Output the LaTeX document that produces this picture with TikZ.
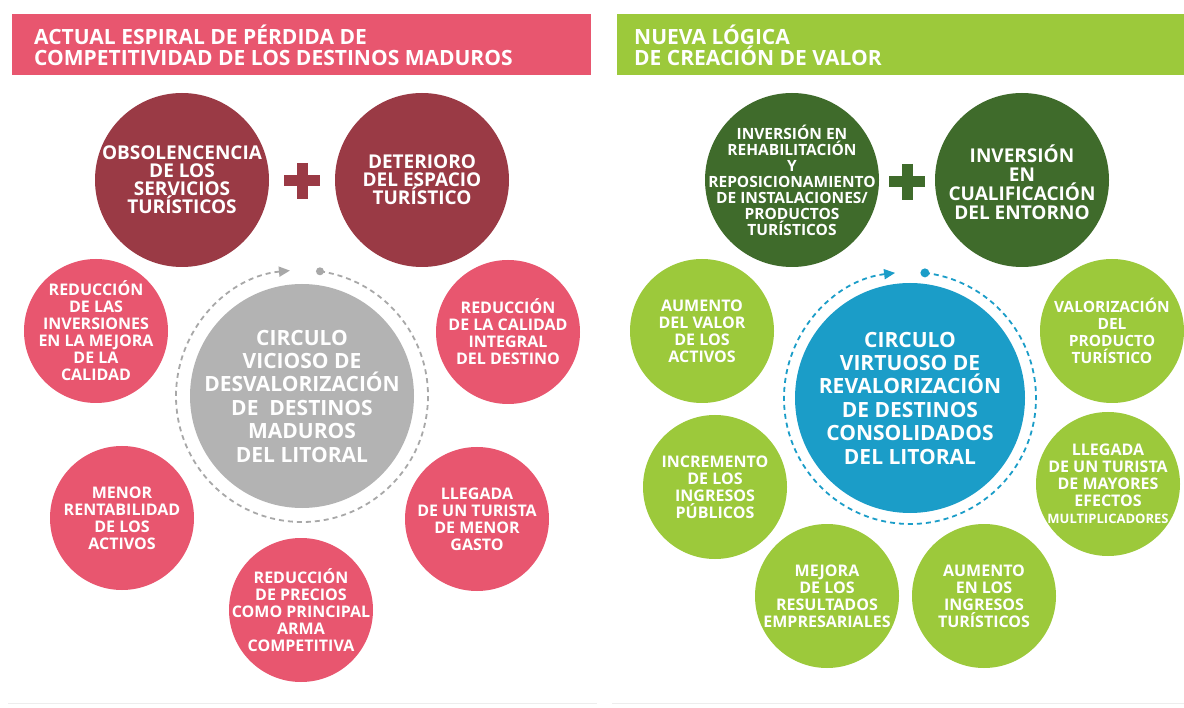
\documentclass[tikz,border=0pt]{standalone}
\usepackage{fontspec}
\setmainfont{Open Sans}
\usetikzlibrary{arrows.meta}

\definecolor{rosa}{HTML}{E8566F}
\definecolor{granate}{HTML}{9A3A45}
\definecolor{grisc}{HTML}{B3B3B3}
\definecolor{grisl}{HTML}{A8A8A8}
\definecolor{lima}{HTML}{9CC93B}
\definecolor{verdeo}{HTML}{3F6B2B}
\definecolor{azul}{HTML}{1B9DC8}
\lineskiplimit=-100pt

\begin{document}
\begin{tikzpicture}[x=1pt, y=-1pt,
  ball/.style={circle, inner sep=0pt, minimum size=144pt},
  bigball/.style={circle, inner sep=0pt, minimum size=174pt},
  btxt/.style={align=center, text=white, inner sep=0pt, font=\bfseries\fontsize{16}{17}\selectfont},
  bigtxt/.style={btxt, font=\bfseries\fontsize{19}{18}\selectfont},
  coretxt/.style={btxt, font=\bfseries\fontsize{21}{23.4}\selectfont},
  headtxt/.style={anchor=west, align=left, inner sep=0pt, text=white, font=\bfseries\fontsize{21}{21}\selectfont},
  ringarc/.style={line width=1.8pt, dash pattern=on 5pt off 4pt, -{Triangle[length=11pt,width=10pt]}},
  plusbar/.style={line width=11pt}]

  % Canvas
  \fill[white] (0,0) rectangle (1184,708);
  \useasboundingbox (0,0) rectangle (1184,708);
  \draw[black!7, line width=1pt] (8,703) -- (597,703) (612,703) -- (1184,703);

  % Headers
  \fill[rosa] (12,14) rectangle (591,75);
  \node[headtxt] (hizq) at (34,45) {ACTUAL ESPIRAL DE PÉRDIDA DE\\COMPETITIVIDAD DE LOS DESTINOS MADUROS};
  \fill[lima] (617,14) rectangle (1184,75);
  \node[headtxt] (hder) at (634,45) {NUEVA LÓGICA\\DE CREACIÓN DE VALOR};

  % Left panel: causes
  \node[bigball, fill=granate] (obso) at (182,180) {};
  \node[bigtxt] at (obso) {OBSOLENCENCIA\\DE LOS\\SERVICIOS\\TURÍSTICOS};
  \node[bigball, fill=granate] (dete) at (422,180) {};
  \node[bigtxt] at (dete) {DETERIORO\\DEL ESPACIO\\TURÍSTICO};
  \draw[plusbar, granate] (284,181) -- (320,181) (302,163) -- (302,199);

  % Left panel: vicious circle
  \node[ball, fill=grisc, minimum size=224pt] (vc) at (302,396) {};
  \node[coretxt] at (vc) {CIRCULO\\VICIOSO DE\\DESVALORIZACIÓN\\DE\ \ DESTINOS\\MADUROS\\DEL LITORAL};
  \coordinate (vdot) at ([shift={(81.8:126pt)}]vc.center);
  \draw[ringarc, grisl] (vdot) arc[start angle=81.8, end angle=-264.5, radius=126pt];
  \fill[grisl] (vdot) circle[radius=4pt];

  \node[ball, fill=rosa] (redinv) at (96,331) {};
  \node[btxt] at (redinv) {REDUCCIÓN\\DE LAS\\INVERSIONES\\EN LA MEJORA\\DE LA\\CALIDAD};
  \node[ball, fill=rosa] (redcal) at (508,332) {};
  \node[btxt] at (redcal) {REDUCCIÓN\\DE LA CALIDAD\\INTEGRAL\\DEL DESTINO};
  \node[ball, fill=rosa] (menor) at (122,518) {};
  \node[btxt] at (menor) {MENOR\\RENTABILIDAD\\DE LOS\\ACTIVOS};
  \node[ball, fill=rosa] (llegm) at (477,519) {};
  \node[btxt] at (llegm) {LLEGADA\\DE UN TURISTA\\DE MENOR\\GASTO};
  \node[ball, fill=rosa] (precio) at (301,610) {};
  \node[btxt] at (precio) {REDUCCIÓN\\DE PRECIOS\\COMO PRINCIPAL\\ARMA\\COMPETITIVA};

  % Right panel: investments
  \node[bigball, fill=verdeo] (rehab) at (792,180) {};
  \node[btxt, font=\bfseries\fontsize{15.5}{16}\selectfont] at (rehab) {INVERSIÓN EN\\REHABILITACIÓN\\Y\\REPOSICIONAMIENTO\\DE INSTALACIONES/\\PRODUCTOS\\TURÍSTICOS};
  \node[bigball, fill=verdeo] (cualif) at (1022,180) {};
  \node[btxt, font=\bfseries\fontsize{19}{19}\selectfont] at ([yshift=-2pt]cualif.center) {INVERSIÓN\\EN\\CUALIFICACIÓN\\DEL ENTORNO};
  \draw[plusbar, verdeo] (889,182) -- (925,182) (907,164) -- (907,200);

  % Right panel: virtuous circle
  \node[ball, fill=azul, minimum size=230pt] (vv) at (910,398) {};
  \node[coretxt] at (vv) {CIRCULO\\VIRTUOSO DE\\REVALORIZACIÓN\\DE DESTINOS\\CONSOLIDADOS\\DEL LITORAL};
  \coordinate (vvdot) at ([shift={(83.2:126pt)}]vv.center);
  \draw[ringarc, azul] (vvdot) arc[start angle=83.2, end angle=-263.2, radius=126pt];
  \fill[azul] (vvdot) circle[radius=4.5pt];

  \node[ball, fill=lima] (aumval) at (702,331) {};
  \node[btxt] at (aumval) {AUMENTO\\DEL VALOR\\DE LOS\\ACTIVOS};
  \node[ball, fill=lima] (valor) at (1112,331) {};
  \node[btxt, font=\bfseries\fontsize{15.5}{17}\selectfont] at (valor) {VALORIZACIÓN\\DEL\\PRODUCTO\\TURÍSTICO};
  \node[ball, fill=lima] (increm) at (715,487) {};
  \node[btxt] at (increm) {INCREMENTO\\DE LOS\\INGRESOS\\PÚBLICOS};
  \node[ball, fill=lima] (llegM) at (1108,484) {};
  \node[btxt] at (llegM) {LLEGADA\\DE UN TURISTA\\DE MAYORES\\EFECTOS\\{\fontsize{13}{15}\selectfont MULTIPLICADORES}};
  \node[ball, fill=lima] (mejora) at (827,596) {};
  \node[btxt] at (mejora) {MEJORA\\DE LOS\\RESULTADOS\\EMPRESARIALES};
  \node[ball, fill=lima] (aumIng) at (984,596) {};
  \node[btxt] at (aumIng) {AUMENTO\\EN LOS\\INGRESOS\\TURÍSTICOS};

\end{tikzpicture}
\end{document}
